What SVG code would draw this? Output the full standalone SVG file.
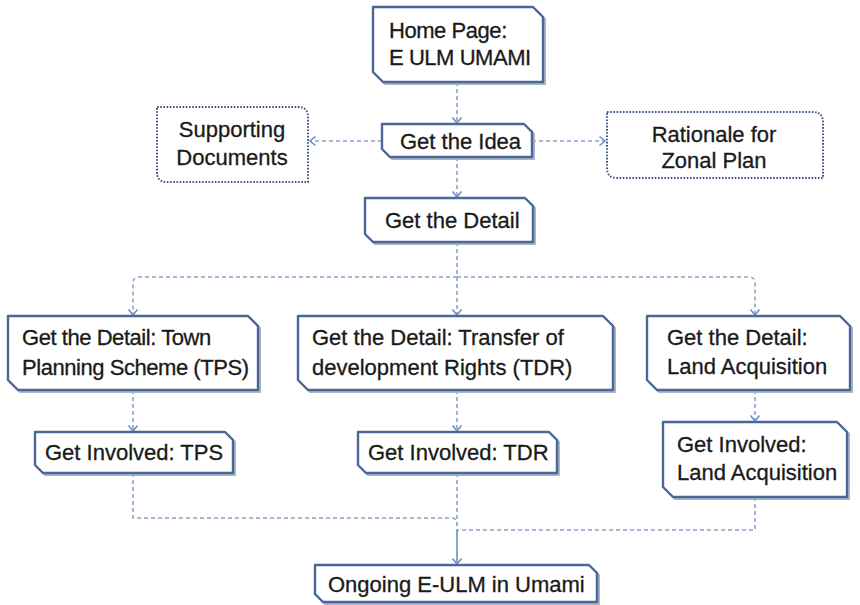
<svg xmlns="http://www.w3.org/2000/svg" width="860" height="605" viewBox="0 0 860 605">
  <style>
    .box { fill: #ffffff; stroke: #4a6796; stroke-width: 2.4; stroke-linejoin: round; }
    .shadow { fill: none; stroke: #a9b6c8; stroke-width: 2; }
    .note { fill: #ffffff; stroke: #3d5886; stroke-width: 2; stroke-dasharray: 1.6 1.6; }
    .label { font-family: "Liberation Sans", Arial, sans-serif; font-size: 22px; fill: #1a1a1a; stroke: #1a1a1a; stroke-width: 0.3; }
    .mid { text-anchor: middle; }
    .tight { letter-spacing: -0.45px; }
    .link { fill: none; stroke: #8ca4c9; stroke-width: 1.6; stroke-dasharray: 4 3; }
    .solid { fill: none; stroke: #6f90c2; stroke-width: 1.6; }
  </style>
  <defs>
    <marker id="chev" viewBox="-7 -6 9 12" refX="0" refY="0" markerWidth="9" markerHeight="12" markerUnits="userSpaceOnUse" orient="auto">
      <path d="M-5.5,-4.5 L0,0 L-5.5,4.5" fill="none" stroke="#6f90c2" stroke-width="1.6"/>
    </marker>
  </defs>

  <!-- connectors -->
  <g id="connectors">
    <path class="link" d="M457 82 V123" marker-end="url(#chev)"/>
    <path class="link" d="M382 141 H310" marker-end="url(#chev)"/>
    <path class="link" d="M532 141 H605" marker-end="url(#chev)"/>
    <path class="link" d="M457 157 V197" marker-end="url(#chev)"/>
    <path class="link" d="M457 242 V315" marker-end="url(#chev)"/>
    <path class="link" d="M457 277 H139 Q133 277 133 283 V315" marker-end="url(#chev)"/>
    <path class="link" d="M457 277 H749 Q755 277 755 283 V315" marker-end="url(#chev)"/>
    <path class="link" d="M133 390 V431" marker-end="url(#chev)"/>
    <path class="link" d="M457 390 V431" marker-end="url(#chev)"/>
    <path class="link" d="M755 390 V421" marker-end="url(#chev)"/>
    <path class="link" d="M133 473 V518 H451 Q457 518 457 524"/>
    <path class="link" d="M457 473 V530"/>
    <path class="link" d="M755 497 V530 H457"/>
    <path class="solid" d="M457 530 V564" marker-end="url(#chev)"/>
  </g>

  <!-- nodes -->
  <g id="home">
    <path class="shadow" d="M375 9 H535 L545 19 V84 H385 L375 74 Z"/>
    <path class="box" d="M373 7 H533 L543 17 V82 H383 L373 72 Z"/>
    <text class="label tight" x="389" y="38">Home Page:</text>
    <text class="label tight" x="389" y="65">E ULM UMAMI</text>
  </g>

  <g id="supporting">
    <path class="note" d="M157 107 H298 Q308 107 308 117 V182 H167 Q157 182 157 172 Z"/>
    <text class="label mid" x="232" y="137">Supporting</text>
    <text class="label mid" x="232" y="165">Documents</text>
  </g>

  <g id="idea">
    <path class="shadow" d="M384 126 H526 L534 134 V159 H392 L384 151 Z"/>
    <path class="box" d="M382 124 H524 L532 132 V157 H390 L382 149 Z"/>
    <text class="label" x="400" y="149">Get the Idea</text>
  </g>

  <g id="rationale">
    <path class="note" d="M607 112 H813 Q823 112 823 122 V178 H617 Q607 178 607 168 Z"/>
    <text class="label mid" x="714" y="142">Rationale for</text>
    <text class="label mid" x="714" y="168">Zonal Plan</text>
  </g>

  <g id="detail">
    <path class="shadow" d="M367 200 H527 L535 208 V244 H375 L367 236 Z"/>
    <path class="box" d="M365 198 H525 L533 206 V242 H373 L365 234 Z"/>
    <text class="label" x="385" y="228">Get the Detail</text>
  </g>

  <g id="detail-tps">
    <path class="shadow" d="M10 318 H250 L260 328 V392 H20 L10 382 Z"/>
    <path class="box" d="M8 316 H248 L258 326 V390 H18 L8 380 Z"/>
    <text class="label tight" x="22" y="345">Get the Detail: Town</text>
    <text class="label tight" x="22" y="375">Planning Scheme (TPS)</text>
  </g>

  <g id="detail-tdr">
    <path class="shadow" d="M300 318 H605 L615 328 V392 H310 L300 382 Z"/>
    <path class="box" d="M298 316 H603 L613 326 V390 H308 L298 380 Z"/>
    <text class="label" x="312" y="345">Get the Detail: Transfer of</text>
    <text class="label" x="312" y="375">development Rights (TDR)</text>
  </g>

  <g id="detail-land">
    <path class="shadow" d="M649 318 H842 L852 328 V392 H659 L649 382 Z"/>
    <path class="box" d="M647 316 H840 L850 326 V390 H657 L647 380 Z"/>
    <text class="label" x="667" y="345">Get the Detail:</text>
    <text class="label" x="667" y="374">Land Acquisition</text>
  </g>

  <g id="involved-tps">
    <path class="shadow" d="M37 434 H227 L235 442 V475 H45 L37 467 Z"/>
    <path class="box" d="M35 432 H225 L233 440 V473 H43 L35 465 Z"/>
    <text class="label" x="45" y="460">Get Involved: TPS</text>
  </g>

  <g id="involved-tdr">
    <path class="shadow" d="M360 434 H551 L559 442 V475 H368 L360 467 Z"/>
    <path class="box" d="M358 432 H549 L557 440 V473 H366 L358 465 Z"/>
    <text class="label" x="368" y="460">Get Involved: TDR</text>
  </g>

  <g id="involved-land">
    <path class="shadow" d="M665 424 H839 L849 434 V499 H675 L665 489 Z"/>
    <path class="box" d="M663 422 H837 L847 432 V497 H673 L663 487 Z"/>
    <text class="label" x="677" y="452">Get Involved:</text>
    <text class="label" x="677" y="480">Land Acquisition</text>
  </g>

  <g id="ongoing">
    <path class="shadow" d="M317 567 H591 L599 575 V604 H325 L317 596 Z"/>
    <path class="box" d="M315 565 H589 L597 573 V602 H323 L315 594 Z"/>
    <text class="label" x="328" y="592">Ongoing E-ULM in Umami</text>
  </g>
</svg>
